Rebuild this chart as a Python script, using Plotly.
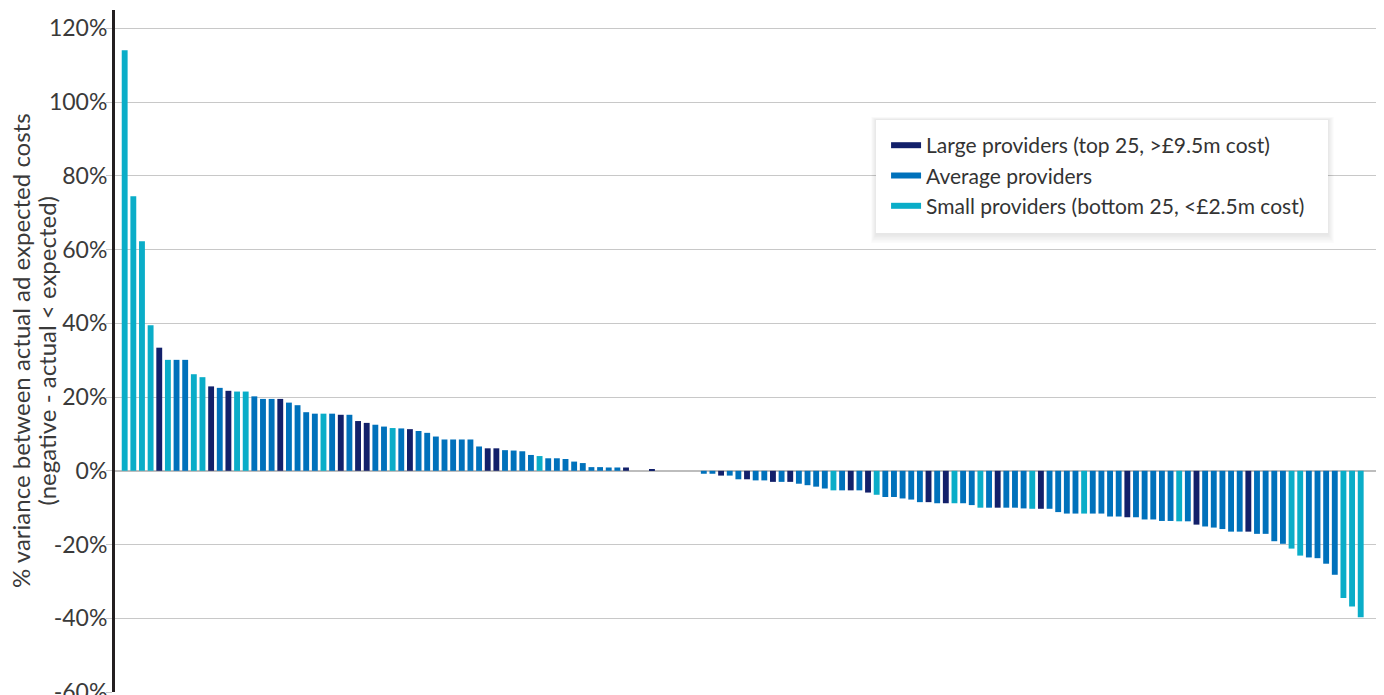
import plotly.graph_objects as go

# % variance between actual and expected costs, one value per provider (sorted)
variance = [
    114.1, 74.5, 62.3, 39.5, 33.4, 30.1, 30.1, 30.1, 26.2, 25.4,
    22.9, 22.5, 21.7, 21.5, 21.5, 20.2, 19.5, 19.5, 19.5, 18.5,
    17.8, 15.9, 15.5, 15.5, 15.5, 15.2, 15.2, 13.5, 13.0, 12.5,
    12.0, 11.6, 11.5, 11.3, 10.8, 10.3, 9.3, 8.5, 8.5, 8.5,
    8.5, 6.6, 6.1, 6.1, 5.6, 5.5, 5.3, 4.3, 4.0, 3.4,
    3.4, 3.2, 2.5, 2.1, 1.0, 1.0, 0.9, 0.9, 0.9, 0.0,
    0.0, 0.5, 0.0, 0.0, 0.0, 0.0, 0.0, -0.8, -0.8, -1.3,
    -1.3, -2.3, -2.3, -2.6, -2.6, -3.0, -3.0, -3.0, -3.5, -3.9,
    -4.3, -4.8, -5.3, -5.3, -5.3, -5.3, -5.9, -6.5, -7.1, -7.1,
    -7.5, -7.8, -8.5, -8.5, -8.8, -8.8, -8.8, -8.8, -9.3, -10.0,
    -10.0, -10.0, -10.0, -10.0, -10.2, -10.3, -10.3, -10.3, -11.2, -11.6,
    -11.6, -11.6, -11.6, -11.6, -12.4, -12.4, -12.6, -12.6, -13.2, -13.2,
    -13.6, -13.6, -13.7, -13.7, -14.6, -15.1, -15.4, -15.8, -16.5, -16.5,
    -16.5, -17.1, -17.1, -19.1, -19.8, -21.1, -23.0, -23.5, -23.7, -25.2,
    -28.2, -34.5, -36.8, -39.7,
]

# provider size group for each bar: L = large, A = average, S = small
group = list(
    "SSSSLSAASS" "LALSSAAALA" "AAASALALLA" "ASALAAAAAA" "AALLAAAASA"
    "AAAAAAAALA" "ALAAAAAAAL" "AALAALALAA" "AASALALSAA" "AAALALSAAS"
    "ALAAASLAAA" "ASAAAALAAA" "AASALAAAAA" "LAAAASSAAA" "ASSS"
)

provider = list(range(1, len(variance) + 1))

y_ticks = [-60, -40, -20, 0, 20, 40, 60, 80, 100, 120]
y_tick_labels = [f"{v}%" for v in y_ticks]

group_names = {
    "L": "Large providers (top 25, >£9.5m cost)",
    "A": "Average providers",
    "S": "Small providers (bottom 25, <£2.5m cost)",
}
group_colors = {"L": "#12206a", "A": "#0071bb", "S": "#0aadc8"}

fig = go.Figure()

for key in ["L", "A", "S"]:
    xs = [p for p, g in zip(provider, group) if g == key]
    ys = [v for v, g in zip(variance, group) if g == key]
    fig.add_trace(go.Bar(
        x=xs, y=ys, name=group_names[key],
        marker=dict(color=group_colors[key], line=dict(width=0)),
        width=0.68, showlegend=False,
    ))
    # line swatch for the legend
    fig.add_trace(go.Scatter(
        x=[None], y=[None], mode="lines", name=group_names[key],
        line=dict(color=group_colors[key], width=6),
    ))

# legend card with a soft shadow (paper coordinates of the plot area)
box = dict(x0=0.6025, x1=0.9604, y0=0.673, y1=0.8387)
px_x, px_y = 1 / 1263, 1 / 682
for i in range(6, 0, -1):
    fig.add_shape(
        type="rect", xref="paper", yref="paper", layer="above",
        x0=box["x0"] - i * 0.8 * px_x, x1=box["x1"] + i * px_x,
        y0=box["y0"] - (i * 1.5 + 1) * px_y, y1=box["y1"] + i * 0.5 * px_y,
        fillcolor="rgba(0,0,0,0.016)", line=dict(width=0),
    )
fig.add_shape(
    type="rect", xref="paper", yref="paper", layer="above",
    x0=box["x0"], x1=box["x1"], y0=box["y0"], y1=box["y1"],
    fillcolor="white", line=dict(width=0),
)

# two-line y axis title
title_lines = [
    "% variance between actual ad expected costs",
    "(negative - actual < expected)",
]
for text, xpos in zip(title_lines, [-0.0752, -0.0550]):
    fig.add_annotation(
        text=text, xref="paper", yref="paper", x=xpos, y=0.5,
        xanchor="center", yanchor="middle", textangle=-90,
        showarrow=False, font=dict(size=24, color="#3a3a3a"),
    )

fig.update_layout(
    width=1376, height=687,
    margin=dict(l=107, r=6, t=2, b=3),
    paper_bgcolor="white", plot_bgcolor="white",
    font=dict(family="Lato, sans-serif", size=21, color="#3a3a3a"),
    legend=dict(
        x=0.6105, y=0.8313, xanchor="left", yanchor="top",
        bgcolor="rgba(0,0,0,0)", borderwidth=0,
        font=dict(size=21, color="#333333"),
        tracegroupgap=0, itemwidth=30,
    ),
)

fig.update_xaxes(
    range=[-0.12, 146], showticklabels=False, showgrid=False,
    zeroline=False, showline=False, ticks="",
)

fig.update_yaxes(
    range=[-60, 125], tickvals=y_ticks, ticktext=y_tick_labels,
    automargin=False, tickfont=dict(size=23, color="#3a3a3a"),
    ticklabeloverflow="allow",
    showgrid=True, gridcolor="#c8c8c8", gridwidth=1,
    zeroline=True, zerolinecolor="#bdbdbd", zerolinewidth=1.5,
    showline=True, linecolor="#231f20", linewidth=3,
    ticks="outside", ticklen=6, tickcolor="#c8c8c8", ticklabelstandoff=-6,
)

fig.write_html("out.html")
